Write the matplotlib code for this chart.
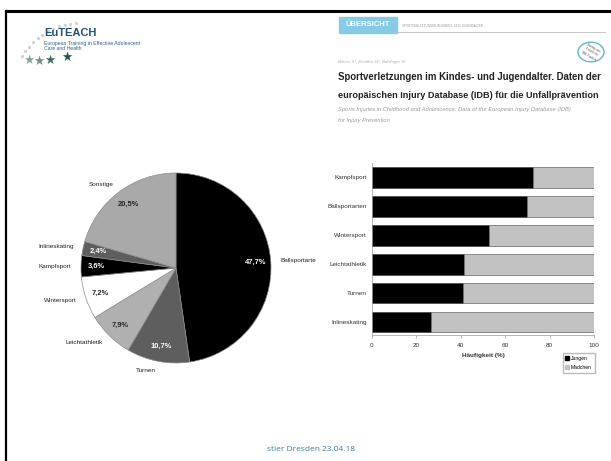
import numpy as np
import matplotlib
matplotlib.use("Agg")
import matplotlib.pyplot as plt
from matplotlib.patches import Rectangle, Circle
from matplotlib.lines import Line2D

plt.rcParams['font.family'] = ['Liberation Sans', 'DejaVu Sans']

# pie data
pie_labels = ['Ballsportarte', 'Turnen', 'Leichtathletik', 'Wintersport',
              'Kampfsport', 'Inlineskating', 'Sonstige']
pie_values = [47.7, 10.7, 7.9, 7.2, 3.6, 2.4, 20.5]
pie_colors = ['#000000', '#5e5e5e', '#b0b0b0', '#ffffff', '#000000', '#5e5e5e', '#a9a9a9']
pct_colors = ['white', 'white', '#222222', '#222222', 'white', 'white', '#222222']

# bar data (share of boys, rest girls)
sports = ['Kampfsport', 'Ballsportarten', 'Wintersport', 'Leichtathletik', 'Turnen', 'Inlineskating']
jungen = [72.3, 69.9, 52.6, 41.4, 41.2, 26.5]
maedchen = [100 - j for j in jungen]

W, H = 611, 461
fig = plt.figure(figsize=(W / 100, H / 100), dpi=100)
fig.patch.set_facecolor('white')
renderer = fig.canvas.get_renderer()


def fit_text(txt, width_px):
    # shrink a text so that it spans width_px pixels
    w = txt.get_window_extent(renderer).width
    txt.set_fontsize(txt.get_fontsize() * width_px / w)


# slide frame
fig.add_artist(Line2D([7 / W, 1], [1 - 11 / H, 1 - 11 / H], color='black', lw=2.2))
fig.add_artist(Line2D([6 / W, 6 / W], [0, 1 - 11 / H], color='black', lw=1.6))

# logo
fig.text(44 / W, 1 - 33 / H, 'EuTEACH', fontsize=8, fontweight='bold', color='#1d4f7c', va='center')
fig.text(44 / W, 1 - 43 / H, 'European Training in Effective Adolescent', fontsize=3.7,
         color='#2f5f8f', va='center')
fig.text(44 / W, 1 - 49 / H, 'Care and Health', fontsize=3.7, color='#2f5f8f', va='center')
a = np.radians(np.linspace(150, 93, 12))
fig.add_artist(Line2D((80 + 67 * np.cos(a)) / W, 1 - (90 - 67 * np.sin(a)) / H,
                      ls='none', marker='o', ms=1.3, color='#d0d0d0'))
for sx, sy, sc in [(29, 60, '#8aa39a'), (39, 61, '#6f8f84'), (50, 60, '#3f6e5f'), (67, 57, '#1f5a45')]:
    fig.text(sx / W, 1 - sy / H, '★', fontsize=9, color=sc, ha='center', va='center',
             family=['DejaVu Sans'])

# header of article
fig.add_artist(Rectangle((339 / W, 1 - 33 / H), 58 / W, 16 / H, color='#86cbe6'))
fig.text(368 / W, 1 - 25 / H, 'ÜBERSICHT', fontsize=5.5, color='white', fontweight='bold',
         ha='center', va='center')
fig.text(402 / W, 1 - 26 / H, 'SPORTVERLETZUNGEN IM KINDES- UND JUGENDALTER', fontsize=2.2,
         color='#999999', va='center')
fig.add_artist(Line2D([397 / W, 605 / W], [1 - 32 / H, 1 - 32 / H], color='#bbbbbb', lw=0.6))
fig.add_artist(Circle((591 / W, 1 - 52 / H), 13 / W, transform=fig.transFigure,
                      fill=False, ec='#5cb8dc', lw=1.0))
fig.text(591 / W, 1 - 52 / H, 'Beitrag zum\nErwerb von\nCME-Punkten', fontsize=2.0, color='#555555',
         ha='center', va='center', rotation=-30, linespacing=1.2)
fig.text(338 / W, 1 - 62 / H, 'Weiler S¹, Elsäßer G², Bahlinger S³', fontsize=3.2, color='#aaaaaa',
         style='italic', va='center')
t1 = fig.text(338 / W, 1 - 77 / H, 'Sportverletzungen im Kindes- und Jugendalter. Daten der',
              fontsize=8, fontweight='bold', color='#222222', va='center')
t2 = fig.text(338 / W, 1 - 95 / H, 'europäischen Injury Database (IDB) für die Unfallprävention',
              fontsize=8, fontweight='bold', color='#222222', va='center')
fit_text(t1, 266)
fit_text(t2, 262)
t3 = fig.text(338 / W, 1 - 110 / H,
              'Sports Injuries in Childhood and Adolescence: Data of the European Injury Database (IDB)',
              fontsize=4.6, style='italic', color='#9a9a9a', va='center')
fit_text(t3, 230)
fig.text(338 / W, 1 - 120 / H, 'for Injury Prevention', fontsize=t3.get_fontsize(), style='italic',
         color='#9a9a9a', va='center')

# pie chart
cx, cy, r = 176, 268, 95
ax1 = fig.add_axes([(cx - r) / W, (H - cy - r) / H, 2 * r / W, 2 * r / H])
wedges, texts, autotexts = ax1.pie(
    pie_values, labels=pie_labels, colors=pie_colors, startangle=90, counterclock=False,
    autopct=lambda p: f'{p:.1f}%'.replace('.', ','), pctdistance=0.84, labeldistance=1.1,
    wedgeprops=dict(edgecolor='#8c8c8c', linewidth=0.5),
    textprops=dict(fontsize=4.6, color='#222222'))
for at, c in zip(autotexts, pct_colors):
    at.set_color(c)
    at.set_fontweight('bold')
    at.set_fontsize(5.4)
ax1.set_xlim(-1, 1)
ax1.set_ylim(-1, 1)
ax1.set_aspect('equal')

# stacked bars
ax2 = fig.add_axes([372 / W, (H - 335) / H, 222 / W, 172 / H])
y = np.arange(len(sports))
ax2.barh(y, jungen, height=0.72, color='black', edgecolor='#444444', linewidth=0.5, label='Jungen')
ax2.barh(y, maedchen, left=jungen, height=0.72, color='#c2c2c2', edgecolor='#666666',
         linewidth=0.5, label='Mädchen')
ax2.set_yticks(y)
ax2.set_yticklabels(sports)
ax2.set_ylim(5.45, -0.5)
ax2.set_xlim(0, 100)
ax2.set_xticks([0, 20, 40, 60, 80, 100])
for s in ['top', 'right']:
    ax2.spines[s].set_visible(False)
for s in ['left', 'bottom']:
    ax2.spines[s].set_color('#999999')
    ax2.spines[s].set_linewidth(0.5)
ax2.tick_params(axis='both', labelsize=4.6, labelcolor='#333333', color='#999999',
                width=0.5, length=2)
ax2.tick_params(axis='y', length=0)
ax2.set_xlabel('Häufigkeit (%)', fontsize=4.6, fontweight='bold', color='#333333', labelpad=4)

handles = [Line2D([], [], ls='none', marker='s', ms=2.2, color='black'),
           Line2D([], [], ls='none', marker='s', ms=2.2, color='#c2c2c2')]
fig.legend(handles, ['Jungen', 'Mädchen'], loc='upper right', bbox_to_anchor=(595 / W, 1 - 353 / H),
           fontsize=3.6, frameon=True, fancybox=False, edgecolor='#aaaaaa', handlelength=0.6,
           handletextpad=0.5, borderpad=0.6, labelspacing=0.8, borderaxespad=0)

# footer
fig.text(311 / W, 1 - 449 / H, 'stier Dresden 23.04.18', fontsize=6, color='#31849b',
         ha='center', va='center', family=['Open Sans', 'DejaVu Sans'])

fig.savefig('out.png', dpi=100)
